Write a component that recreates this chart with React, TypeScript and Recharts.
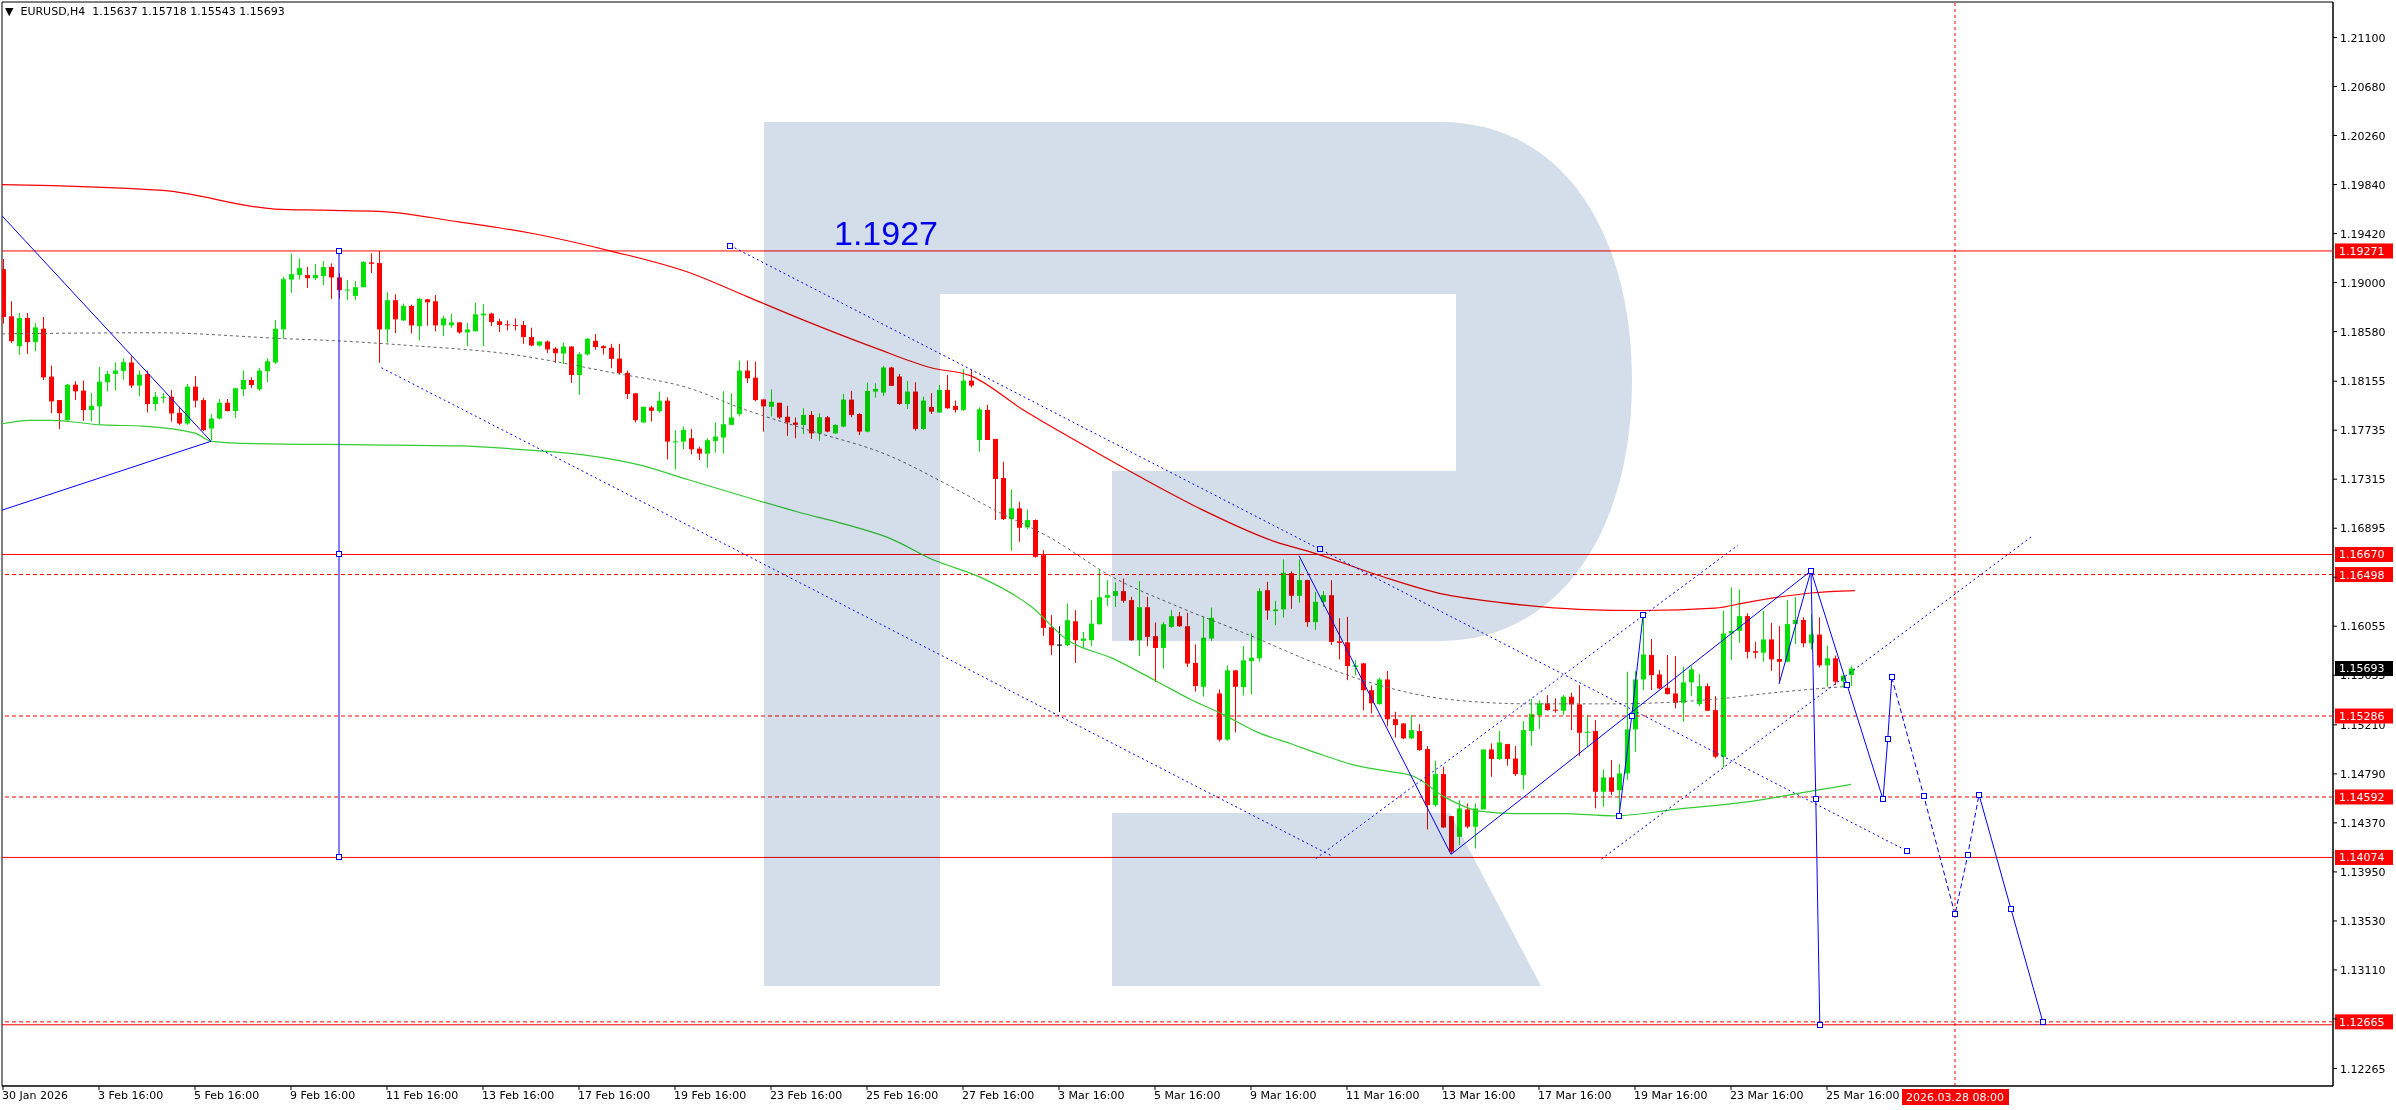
import React from 'react';
import { ComposedChart, Bar, Line, XAxis, YAxis, ReferenceLine, ReferenceArea, ReferenceDot } from 'recharts';

// EURUSD H4, one row per bar: open, high, low, close
const candles: [number, number, number, number][] = [
  [1.19115, 1.19202, 1.18648, 1.18705], [1.18711, 1.1884, 1.18481, 1.18498], [1.18455, 1.1874, 1.18381, 1.18696],
  [1.18696, 1.1874, 1.18389, 1.1849], [1.1849, 1.18653, 1.18412, 1.18616], [1.18605, 1.18705, 1.18165, 1.18188],
  [1.18194, 1.18289, 1.17881, 1.17982], [1.17993, 1.17993, 1.17743, 1.17881], [1.17821, 1.18131, 1.17815, 1.18125],
  [1.18125, 1.18154, 1.17993, 1.18068], [1.18074, 1.1816, 1.17815, 1.17907], [1.17907, 1.18054, 1.17809, 1.17944],
  [1.17939, 1.18277, 1.17781, 1.18151], [1.18145, 1.18243, 1.18068, 1.18217], [1.18217, 1.18315, 1.18074, 1.18246],
  [1.18243, 1.18349, 1.18168, 1.18318], [1.18315, 1.18366, 1.18097, 1.18117], [1.18117, 1.18246, 1.18025, 1.18211],
  [1.18217, 1.18246, 1.17887, 1.17959], [1.17959, 1.18062, 1.17901, 1.18022], [1.18013, 1.18054, 1.17967, 1.18022],
  [1.18022, 1.18079, 1.17809, 1.17879], [1.17884, 1.17936, 1.17781, 1.17792], [1.17792, 1.18131, 1.17781, 1.18108],
  [1.18108, 1.182, 1.1793, 1.17988], [1.17993, 1.18013, 1.17729, 1.17735], [1.17749, 1.17873, 1.17649, 1.17835],
  [1.17835, 1.18002, 1.17827, 1.1797], [1.1797, 1.18002, 1.17896, 1.17899], [1.17899, 1.18099, 1.17838, 1.18094],
  [1.18085, 1.18246, 1.18028, 1.18165], [1.18165, 1.18188, 1.18097, 1.18122], [1.18085, 1.18269, 1.18074, 1.18246],
  [1.1824, 1.18352, 1.18145, 1.18326], [1.18315, 1.18679, 1.18303, 1.18605], [1.18599, 1.19049, 1.18518, 1.19029],
  [1.19026, 1.1925, 1.18912, 1.19072], [1.19064, 1.19207, 1.19026, 1.19124], [1.19064, 1.19135, 1.18955, 1.19038],
  [1.19038, 1.19158, 1.19021, 1.19064], [1.19055, 1.19184, 1.18978, 1.19133], [1.19133, 1.19164, 1.1886, 1.19044],
  [1.19044, 1.19078, 1.1886, 1.18935], [1.18935, 1.19021, 1.18851, 1.1894], [1.18886, 1.19012, 1.18849, 1.1896],
  [1.1896, 1.19184, 1.1896, 1.19176], [1.19173, 1.1925, 1.19081, 1.19161], [1.19167, 1.1927, 1.18312, 1.18599],
  [1.18599, 1.18917, 1.18484, 1.18849], [1.18849, 1.189, 1.18567, 1.18685], [1.18676, 1.1882, 1.18671, 1.188],
  [1.188, 1.18811, 1.18564, 1.18633], [1.18627, 1.18869, 1.18504, 1.1886], [1.18857, 1.1886, 1.1863, 1.18831],
  [1.1884, 1.18892, 1.18582, 1.18633], [1.18633, 1.18714, 1.18541, 1.18693], [1.18633, 1.18734, 1.18613, 1.18659],
  [1.18659, 1.18659, 1.18562, 1.18573], [1.18573, 1.18653, 1.18455, 1.18599], [1.18582, 1.18828, 1.18582, 1.18728],
  [1.18719, 1.18814, 1.18455, 1.18734], [1.18734, 1.18742, 1.18627, 1.18662], [1.18668, 1.18691, 1.18576, 1.18636],
  [1.18642, 1.18676, 1.1859, 1.18636], [1.18636, 1.18693, 1.1859, 1.1863], [1.18636, 1.18671, 1.18475, 1.18533],
  [1.18533, 1.18613, 1.18455, 1.18461], [1.18461, 1.18498, 1.18452, 1.18495], [1.18495, 1.18504, 1.18398, 1.18427],
  [1.18435, 1.18447, 1.18312, 1.18395], [1.18392, 1.18487, 1.18303, 1.18452], [1.18452, 1.18455, 1.1814, 1.18208],
  [1.18208, 1.18404, 1.18037, 1.18386], [1.18384, 1.18527, 1.18375, 1.18518], [1.18501, 1.18559, 1.18424, 1.18447],
  [1.18455, 1.18464, 1.18384, 1.18438], [1.18441, 1.18475, 1.18266, 1.18346], [1.18349, 1.18475, 1.18217, 1.18226],
  [1.18226, 1.18246, 1.18002, 1.18045], [1.18051, 1.18051, 1.17801, 1.17821], [1.17801, 1.17936, 1.17801, 1.17936],
  [1.1793, 1.17944, 1.17809, 1.17901], [1.17899, 1.18065, 1.17884, 1.17988], [1.17988, 1.18016, 1.17485, 1.17637],
  [1.17637, 1.17735, 1.17399, 1.1764], [1.17637, 1.17766, 1.17571, 1.17738], [1.17666, 1.17746, 1.17528, 1.17571],
  [1.17577, 1.17594, 1.17479, 1.17534], [1.17534, 1.17666, 1.17414, 1.17649], [1.17643, 1.17801, 1.17543, 1.1768],
  [1.17672, 1.18068, 1.17534, 1.17786], [1.17781, 1.18051, 1.17781, 1.17844], [1.17873, 1.18332, 1.17853, 1.18246],
  [1.18246, 1.18332, 1.1814, 1.1818], [1.18185, 1.18323, 1.17982, 1.17993], [1.17999, 1.17999, 1.17723, 1.17939],
  [1.17936, 1.18085, 1.17853, 1.17979], [1.1797, 1.1797, 1.1783, 1.17844], [1.1785, 1.17944, 1.17686, 1.17801],
  [1.17801, 1.17844, 1.17666, 1.17781], [1.1778, 1.17923, 1.17703, 1.17866], [1.17866, 1.179, 1.1766, 1.17708],
  [1.17708, 1.1788, 1.17645, 1.17846], [1.17846, 1.17857, 1.17717, 1.17723], [1.17708, 1.17786, 1.17703, 1.1778],
  [1.17766, 1.18046, 1.1776, 1.17997], [1.17997, 1.18072, 1.17846, 1.17866], [1.17874, 1.1788, 1.17694, 1.17723],
  [1.17723, 1.18143, 1.17717, 1.18072], [1.18066, 1.18137, 1.18014, 1.18089], [1.18057, 1.18286, 1.18029, 1.18272],
  [1.18272, 1.18278, 1.18115, 1.18115], [1.18195, 1.18217, 1.17952, 1.1796], [1.1796, 1.18157, 1.17917, 1.18066],
  [1.18066, 1.18146, 1.17731, 1.17746], [1.17746, 1.18023, 1.17737, 1.17989], [1.17934, 1.18052, 1.17874, 1.17894],
  [1.17886, 1.18123, 1.17886, 1.1808], [1.1808, 1.18209, 1.17917, 1.17923], [1.17943, 1.17989, 1.17886, 1.17909],
  [1.17909, 1.18258, 1.179, 1.1816], [1.1816, 1.18252, 1.181, 1.18117], [1.17651, 1.17931, 1.17551, 1.17914],
  [1.17909, 1.17952, 1.17651, 1.17651], [1.1766, 1.1766, 1.16965, 1.17317], [1.17325, 1.17465, 1.16965, 1.16973],
  [1.16973, 1.17228, 1.16702, 1.17065], [1.17065, 1.17122, 1.16779, 1.16899], [1.16902, 1.17056, 1.16888, 1.16965],
  [1.16965, 1.1697, 1.16642, 1.1665], [1.16664, 1.16707, 1.15972, 1.16041], [1.16047, 1.1615, 1.15807, 1.15892],
  [1.15898, 1.16055, 1.1532, 1.15898], [1.15892, 1.1625, 1.15884, 1.16107], [1.16098, 1.16193, 1.15741, 1.15935],
  [1.1593, 1.16007, 1.15864, 1.1595], [1.15935, 1.16279, 1.15884, 1.16078], [1.16072, 1.16541, 1.16072, 1.16304],
  [1.16299, 1.1645, 1.16227, 1.16321], [1.16316, 1.1643, 1.16221, 1.16356], [1.16356, 1.16464, 1.16256, 1.16273],
  [1.16279, 1.16307, 1.1593, 1.15935], [1.15935, 1.16442, 1.15801, 1.16218], [1.16218, 1.16307, 1.15884, 1.15964],
  [1.1597, 1.16087, 1.15578, 1.15869], [1.15869, 1.1609, 1.15692, 1.16072], [1.1605, 1.16193, 1.16041, 1.16141],
  [1.16141, 1.16178, 1.1605, 1.16055], [1.16055, 1.1617, 1.15706, 1.15735], [1.15741, 1.159, 1.15495, 1.15543],
  [1.15536, 1.1614, 1.15452, 1.15957], [1.1595, 1.16215, 1.1593, 1.16128], [1.15479, 1.15513, 1.15068, 1.15083],
  [1.15083, 1.1572, 1.15074, 1.15677], [1.15677, 1.1568, 1.15146, 1.15536], [1.15533, 1.15886, 1.15461, 1.15763],
  [1.15757, 1.15995, 1.1547, 1.15786], [1.1578, 1.1638, 1.1575, 1.16356], [1.16364, 1.16436, 1.1611, 1.1619],
  [1.16185, 1.16274, 1.16064, 1.16199], [1.162, 1.16627, 1.1613, 1.16513], [1.1651, 1.16527, 1.16205, 1.16316],
  [1.16316, 1.16627, 1.16256, 1.1645], [1.1645, 1.16455, 1.1605, 1.1609], [1.1609, 1.1635, 1.16024, 1.16264],
  [1.16264, 1.16356, 1.16221, 1.16321], [1.16321, 1.1645, 1.15895, 1.15921], [1.15926, 1.16124, 1.15771, 1.15912],
  [1.15918, 1.16136, 1.15593, 1.15714], [1.15706, 1.15763, 1.15634, 1.1572], [1.15737, 1.1574, 1.15335, 1.15507],
  [1.15507, 1.15548, 1.15309, 1.15395], [1.15387, 1.15614, 1.15385, 1.15599], [1.15599, 1.15671, 1.15197, 1.15258],
  [1.15259, 1.15322, 1.15102, 1.15208], [1.15222, 1.15225, 1.15088, 1.15094], [1.15094, 1.15294, 1.15088, 1.15165],
  [1.15157, 1.15216, 1.14988, 1.14994], [1.15002, 1.15028, 1.14314, 1.14522], [1.14522, 1.14902, 1.14508, 1.14788],
  [1.14788, 1.14851, 1.14325, 1.14331], [1.14428, 1.1443, 1.14108, 1.14123], [1.14251, 1.14565, 1.1418, 1.14494],
  [1.14485, 1.14537, 1.14323, 1.14337], [1.14337, 1.14537, 1.14151, 1.14494], [1.14485, 1.15, 1.14485, 1.14999],
  [1.14999, 1.15051, 1.14765, 1.14917], [1.14917, 1.15159, 1.14908, 1.15059], [1.15045, 1.15048, 1.1486, 1.14917],
  [1.14922, 1.15028, 1.14771, 1.14788], [1.1478, 1.15242, 1.14657, 1.15165], [1.15157, 1.15428, 1.15031, 1.15302],
  [1.15294, 1.15422, 1.15174, 1.15394], [1.15394, 1.15465, 1.15331, 1.15337], [1.1534, 1.15437, 1.15314, 1.15331],
  [1.15331, 1.15465, 1.15294, 1.15451], [1.15451, 1.15485, 1.15165, 1.15385], [1.15385, 1.15551, 1.14942, 1.15142],
  [1.15142, 1.15294, 1.15022, 1.15151], [1.15157, 1.15251, 1.14494, 1.14637], [1.14637, 1.14828, 1.14508, 1.1476],
  [1.1476, 1.14908, 1.14608, 1.14637], [1.14651, 1.14874, 1.14428, 1.14794], [1.14794, 1.15665, 1.14737, 1.15171],
  [1.15171, 1.15671, 1.14979, 1.15599], [1.15599, 1.16142, 1.15508, 1.15813], [1.15808, 1.15945, 1.15508, 1.15636],
  [1.15642, 1.15679, 1.15514, 1.15522], [1.15528, 1.15808, 1.1547, 1.15474], [1.15479, 1.15799, 1.15351, 1.15399],
  [1.15399, 1.15708, 1.15236, 1.15574], [1.15574, 1.15713, 1.15456, 1.15685], [1.15388, 1.15645, 1.15371, 1.15542],
  [1.15542, 1.15565, 1.15328, 1.15331], [1.15336, 1.15456, 1.14922, 1.14937], [1.14937, 1.16188, 1.14845, 1.15993],
  [1.15993, 1.16387, 1.15765, 1.16016], [1.16016, 1.1637, 1.15913, 1.16142], [1.16142, 1.16165, 1.15779, 1.15836],
  [1.15842, 1.15922, 1.15779, 1.15828], [1.15828, 1.16188, 1.15751, 1.15942], [1.15942, 1.16085, 1.15673, 1.15771],
  [1.15774, 1.16056, 1.15571, 1.15751], [1.15751, 1.16279, 1.15751, 1.16073], [1.16075, 1.16304, 1.15903, 1.16109],
  [1.16109, 1.16132, 1.15875, 1.15909], [1.15909, 1.16159, 1.15856, 1.15985], [1.15983, 1.16132, 1.15703, 1.1572],
  [1.1572, 1.15889, 1.15537, 1.1578], [1.1578, 1.15803, 1.15551, 1.1558], [1.15583, 1.1564, 1.15526, 1.15631],
  [1.15637, 1.15718, 1.15543, 1.15693],
];

// moving averages, read at sample bars: [bar, price]
const redMa: [number, number][] = [
  [-0.125, 1.1984], [20, 1.1979], [34, 1.1963], [40, 1.1962], [47, 1.1961], [57, 1.1952], [62, 1.1947],
  [67, 1.1941], [76, 1.1927], [86, 1.1908], [93, 1.1888], [100, 1.1868], [109, 1.1844], [116, 1.1827],
  [121, 1.182], [127.5, 1.1791], [135, 1.1761], [142, 1.1734], [150, 1.1705], [159, 1.1678], [164, 1.1668],
  [172, 1.1649], [180, 1.1633], [187, 1.1626], [197, 1.162], [205, 1.1619], [214, 1.1621], [218, 1.1626],
  [226, 1.1634], [231.5, 1.1636],
];
const grayMa: [number, number][] = [
  [-0.125, 1.1856], [19, 1.1857], [35, 1.1852], [42, 1.185], [51, 1.1846], [63, 1.1839], [76, 1.1823],
  [86, 1.1809], [92, 1.1793], [100, 1.1775], [111, 1.1751], [118, 1.1727], [124, 1.1705], [131, 1.1681],
  [138.6, 1.1648], [147, 1.1622], [155.4, 1.1599], [164, 1.1574], [172, 1.1555], [180.5, 1.1543],
  [191, 1.1539], [201, 1.1539], [214, 1.1543], [222, 1.1549], [230.5, 1.1554],
];
const greenMa: [number, number][] = [
  [-0.125, 1.1779], [3.4, 1.1782], [6, 1.1782], [12.4, 1.1778], [17.5, 1.1777], [24, 1.1771], [26, 1.1764],
  [31.5, 1.1762], [45.5, 1.1761], [57, 1.176], [66.6, 1.1756], [73, 1.1752], [79.4, 1.1744], [85.7, 1.1731],
  [99.6, 1.1703], [105.2, 1.1693], [110.8, 1.1681], [116.4, 1.1662], [122, 1.1648], [128.6, 1.1622],
  [133, 1.1594], [138.7, 1.1578], [144.3, 1.1558], [148.4, 1.1543], [152.5, 1.153], [156.7, 1.1515],
  [160.9, 1.1505], [165, 1.1495], [169.2, 1.1486], [173.4, 1.1481], [176.3, 1.1477], [180.5, 1.1458],
  [184.6, 1.1447], [188.8, 1.1445], [195, 1.1445], [201.3, 1.1443], [209.6, 1.1449], [218, 1.1455],
  [224.2, 1.1462], [231, 1.147],
];

// drawn objects: [bar, price, marker]
const trendDownLeft: [number, number, number][] = [[-0.125, 1.19572, 0], [26, 1.1764, 0]];
const trendUpLeft: [number, number, number][] = [[-0.125, 1.1705, 0], [26, 1.1764, 0]];
const vertLine: [number, number, number][] = [[42, 1.19271, 1], [42, 1.1667, 1], [42, 1.14074, 1]];
const waveA: [number, number, number][] = [[162, 1.1666, 0], [181, 1.141, 0], [226, 1.1653, 1]];
const waveB: [number, number, number][] = [[202, 1.14428, 1], [203.6, 1.1529, 1], [205, 1.16148, 1]];
const waveC: [number, number, number][] = [[222, 1.1556, 0], [226, 1.1653, 0]];
const waveD: [number, number, number][] = [[226, 1.1653, 0], [230.5, 1.15554, 1], [235, 1.14573, 1], [235.6, 1.15091, 1], [236.1, 1.15617, 1]];
const waveE: [number, number, number][] = [[226, 1.1653, 0], [226.6, 1.14576, 1], [227.1, 1.1264, 1]];
const waveF: [number, number, number][] = [[247, 1.14612, 1], [251, 1.1363, 1], [255, 1.1266, 1]];
const waveDash: [number, number, number][] = [[236.1, 1.15617, 0], [240.1, 1.146, 1], [244, 1.13586, 1], [245.6, 1.14097, 1], [247, 1.14612, 0]];
const chanUpper: [number, number, number][] = [[90.9, 1.19317, 1], [164.6, 1.16715, 1], [238, 1.1413, 1]];
const chanLower: [number, number, number][] = [[47.3, 1.1827, 0], [166, 1.1409, 0]];
const riseUpper: [number, number, number][] = [[164.1, 1.14064, 0], [216.9, 1.1675, 0]];
const riseLower: [number, number, number][] = [[199.8, 1.1406, 0], [253.6, 1.16825, 0]];

const levels = [
  { price: 1.19271, dash: '' }, { price: 1.1667, dash: '' }, { price: 1.16498, dash: '4 3' },
  { price: 1.15286, dash: '4 3' }, { price: 1.14592, dash: '4 3' }, { price: 1.14074, dash: '' },
  { price: 1.12665, dash: '4 3' },
];
const lastPrice = 1.15693;
const futureBar = 244;
const futureLabel = '2026.03.28 08:00';

const xTickBars = [0, 12, 24, 36, 48, 60, 72, 84, 96, 108, 120, 132, 144, 156, 168, 180, 192, 204, 216, 228];
const xTickLabels = [
  '30 Jan 2026', '3 Feb 16:00', '5 Feb 16:00', '9 Feb 16:00', '11 Feb 16:00', '13 Feb 16:00', '17 Feb 16:00',
  '19 Feb 16:00', '23 Feb 16:00', '25 Feb 16:00', '27 Feb 16:00', '3 Mar 16:00', '5 Mar 16:00', '9 Mar 16:00',
  '11 Mar 16:00', '13 Mar 16:00', '17 Mar 16:00', '19 Mar 16:00', '23 Mar 16:00', '25 Mar 16:00',
];
const yTicks = [
  1.211, 1.2068, 1.2026, 1.1984, 1.1942, 1.19, 1.1858, 1.18155, 1.17735, 1.17315, 1.16895, 1.16475,
  1.16055, 1.15635, 1.1521, 1.1479, 1.1437, 1.1395, 1.1353, 1.1311, 1.1269, 1.12265,
];

const X_MIN = -0.125;
const X_MAX = 291.25;
const Y_MIN = 1.121154;
const Y_MAX = 1.214042;
const PLOT_TOP = 2;
const PLOT_BOTTOM = 1086;
const PX_PER_PRICE = (PLOT_BOTTOM - PLOT_TOP) / (Y_MAX - Y_MIN);

const GREEN = '#00e000';
const RED = '#ff0000';
const BLUE = '#0000ff';
const FONT = 'DejaVu Sans';

const tagPrices = [...levels.map((l) => l.price), lastPrice];

const data = candles.map(([o, h, l, c], i) => ({ x: i, o, h, l, c }));
const pts = (arr: [number, number][]) => arr.map(([x, y]) => ({ x, y }));
const marks = (arr: [number, number, number][]) => arr.map(([x, y, m]) => ({ x, y, m }));

const Candle = (props: any) => {
  const { x, y, width, height, payload } = props;
  if (!payload) return null;
  const { o, h, l, c } = payload;
  const top = Math.min(y, y + height);
  const span = Math.abs(height);
  const k = h === l ? 0 : span / (h - l);
  const yO = top + (h - o) * k;
  const yC = top + (h - c) * k;
  const color = c > o ? GREEN : c < o ? RED : '#000';
  const cx = Math.round(x + width / 2) + 0.5;
  const bTop = Math.min(yO, yC);
  const bH = Math.max(1, Math.abs(yO - yC));
  return (
    <g>
      <line x1={cx} x2={cx} y1={top} y2={top + span} stroke={color} strokeWidth={1} />
      <rect x={cx - 2.5} y={bTop} width={5} height={bH} fill={color} />
    </g>
  );
};

const squareDot = (props: any) => {
  const { cx, cy, payload, index } = props;
  if (!payload || !payload.m) return <g key={`n${index}`} />;
  return (
    <rect key={`s${index}`} x={Math.round(cx) - 2.5} y={Math.round(cy) - 2.5} width={5} height={5}
      fill="#fff" stroke={BLUE} strokeWidth={1} />
  );
};

const XTick = ({ x, y, payload }: any) => {
  const idx = xTickBars.indexOf(payload.value);
  return (
    <text x={x - 1} y={y + 7} fontSize={11} fontFamily={FONT} textAnchor="start" fill="#000">
      {xTickLabels[idx]}
    </text>
  );
};

// price-axis labels; the part that lies under a price tag is cut away, as on the terminal
const YTick = ({ x, y, payload }: any) => {
  const v: number = payload.value;
  let lo = y - 9;
  let hi = y + 6;
  tagPrices.forEach((p) => {
    const ty = y + (v - p) * PX_PER_PRICE;
    if (Math.abs(ty - y) < 16) {
      if (ty <= y) lo = Math.max(lo, ty + 7.5);
      else hi = Math.min(hi, ty - 7.5);
    }
  });
  if (hi - lo < 0.5) return <g />;
  const id = `yclip${Math.round(v * 100000)}`;
  return (
    <g>
      <defs>
        <clipPath id={id}>
          <rect x={x - 2} y={lo} width={70} height={hi - lo} />
        </clipPath>
      </defs>
      <text x={x + 1} y={y + 4} fontSize={11} fontFamily={FONT} textAnchor="start" fill="#000" clipPath={`url(#${id})`}>
        {v.toFixed(5)}
      </text>
    </g>
  );
};

const priceTag = (value: number, bg: string) => (props: any) => {
  const vb = props.viewBox;
  if (!vb) return null;
  const xx = vb.x + vb.width;
  return (
    <g>
      <rect x={xx + 2} y={vb.y - 7.5} width={58} height={15} fill={bg} />
      <text x={xx + 6} y={vb.y + 4} fill="#fff" fontSize={11} fontFamily={FONT}>{value.toFixed(5)}</text>
    </g>
  );
};

const timeTag = (props: any) => {
  const vb = props.viewBox;
  if (!vb) return null;
  return (
    <g>
      <rect x={vb.x - 53} y={vb.y + vb.height + 3} width={107} height={16} fill={RED} />
      <text x={vb.x} y={vb.y + vb.height + 15} fill="#fff" fontSize={11} fontFamily={FONT} textAnchor="middle">
        {futureLabel}
      </text>
    </g>
  );
};

const levelText = (props: any) => {
  const vb = props.viewBox;
  if (!vb) return null;
  return (
    <text x={vb.x} y={vb.y} fill={BLUE} fontSize={34} fontFamily="Liberation Sans">1.1927</text>
  );
};

const blueLine = (key: string, arr: [number, number, number][], dash?: string) => (
  <Line key={key} data={marks(arr)} dataKey="y" type="linear" stroke={BLUE} strokeWidth={1}
    strokeDasharray={dash} dot={squareDot} activeDot={false} isAnimationActive={false} />
);

export default function App() {
  return (
    <div style={{ position: 'absolute', left: 0, top: 0, width: 2396, height: 1110, background: '#fff', overflow: 'hidden' }}>
      <ComposedChart width={2396} height={1110} data={data} margin={{ top: PLOT_TOP, left: 2, right: 0, bottom: 0 }}>
        <XAxis type="number" dataKey="x" domain={[X_MIN, X_MAX]} allowDataOverflow ticks={xTickBars} interval={0}
          tick={XTick} tickSize={4} height={1110 - PLOT_BOTTOM} axisLine={{ stroke: '#000' }} tickLine={{ stroke: '#000' }} />
        <YAxis orientation="right" type="number" domain={[Y_MIN, Y_MAX]} allowDataOverflow ticks={yTicks}
          interval={0} tick={YTick} tickSize={4} width={63} axisLine={{ stroke: '#000' }} tickLine={{ stroke: '#000' }} />
        <ReferenceArea x1={X_MIN} x2={X_MAX} y1={Y_MIN} y2={Y_MAX} fill="none" stroke="#000" strokeWidth={1} />
        {levels.map((lv) => (
          <ReferenceLine key={lv.price} y={lv.price} stroke={RED} strokeWidth={1}
            strokeDasharray={lv.dash || undefined} label={priceTag(lv.price, RED)} />
        ))}
        <ReferenceLine y={1.1264} stroke={RED} strokeWidth={1} />
        <ReferenceLine x={futureBar} stroke={RED} strokeWidth={1} strokeDasharray="3 3" label={timeTag} />
        <Line data={pts(redMa)} dataKey="y" type="monotone" stroke={RED} strokeWidth={1.2} dot={false}
          activeDot={false} isAnimationActive={false} />
        <Line data={pts(grayMa)} dataKey="y" type="monotone" stroke="#666" strokeWidth={1} strokeDasharray="3 3"
          dot={false} activeDot={false} isAnimationActive={false} />
        <Line data={pts(greenMa)} dataKey="y" type="monotone" stroke="#33cc33" strokeWidth={1.2} dot={false}
          activeDot={false} isAnimationActive={false} />
        <Bar dataKey={(d: any) => [d.l, d.h]} barSize={5} shape={Candle} isAnimationActive={false} />
        {blueLine('tdl', trendDownLeft)}
        {blueLine('tul', trendUpLeft)}
        {blueLine('vl', vertLine)}
        {blueLine('cu', chanUpper, '2 3')}
        {blueLine('cl', chanLower, '2 3')}
        {blueLine('ru', riseUpper, '2 3')}
        {blueLine('rl', riseLower, '2 3')}
        {blueLine('wa', waveA)}
        {blueLine('wb', waveB)}
        {blueLine('wc', waveC)}
        {blueLine('wd', waveD)}
        {blueLine('we', waveE)}
        {blueLine('wf', waveF)}
        {blueLine('wdash', waveDash, '5 3')}
        <ReferenceLine y={lastPrice} stroke="none" label={priceTag(lastPrice, '#000')} />
        <ReferenceDot x={104} y={1.19313} r={1} fill="none" stroke="none" label={levelText} />
      </ComposedChart>
      <svg width={2396} height={1110}
        style={{ position: 'absolute', left: 0, top: 0, mixBlendMode: 'multiply', pointerEvents: 'none' }}>
        <path d="M764,122 L1440,122 C1565,122 1632,235 1632,381 C1632,530 1560,641 1440,641 L1112,641 L1112,471 L1456,471 L1456,294 L940,294 L940,986 L764,986 Z"
          fill="#d3deea" />
        <path d="M1112,813 L1450,813 L1541,986 L1112,986 Z" fill="#d3deea" />
      </svg>
      <div style={{ position: 'absolute', left: 5, top: 5, fontFamily: FONT, fontSize: 11, color: '#000', whiteSpace: 'pre' }}>
        {'\u25BC  EURUSD,H4  1.15637 1.15718 1.15543 1.15693'}
      </div>
    </div>
  );
}
